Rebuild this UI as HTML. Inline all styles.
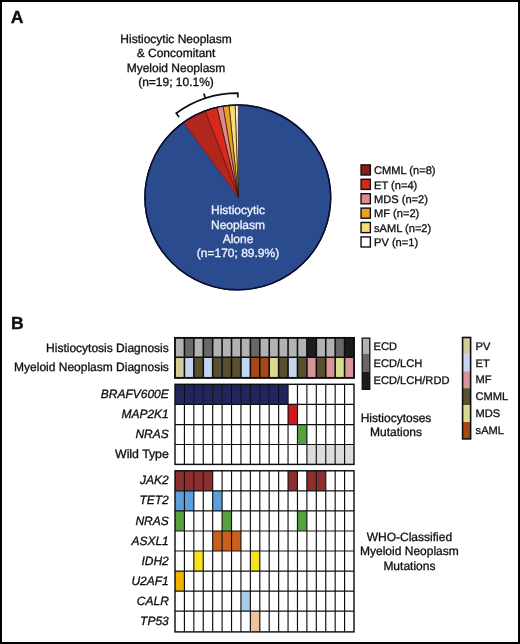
<!DOCTYPE html>
<html><head><meta charset="utf-8"><title>Figure</title>
<style>
html,body{margin:0;padding:0;background:#fff;}
svg{display:block;}
text{font-family:"Liberation Sans",Arial,Helvetica,sans-serif;fill:#111;stroke:#111;stroke-width:0.32px;text-rendering:geometricPrecision;}
.b{font-weight:bold;font-size:17.6px;stroke-width:0.4px;}
.t{font-size:12px;}
.l{font-size:11.1px;}
.i{font-style:italic;}
.w{fill:#eef2fa;stroke:#eef2fa;}
.m{text-anchor:middle;}
.e{text-anchor:end;}
</style></head><body>
<svg width="520" height="644" viewBox="0 0 520 644">
<rect x="0" y="0" width="520" height="644" fill="#fff"/>
<rect x="1" y="1" width="518" height="642" fill="none" stroke="#000" stroke-width="2"/>
<defs><filter id="sf" x="0" y="0" width="520" height="644" filterUnits="userSpaceOnUse"><feGaussianBlur stdDeviation="0.38"/></filter></defs>
<g filter="url(#sf)">
<text class="b" x="10.7" y="23.25">A</text>
<text class="b" x="11.0" y="328.65">B</text>
<ellipse cx="237.8" cy="197.4" rx="92.9" ry="92.4" fill="#2a4b8d" stroke="#0a1030" stroke-width="1.4"/>
<clipPath id="pc"><ellipse cx="237.8" cy="197.4" rx="92.9" ry="92.4"/></clipPath>
<g clip-path="url(#pc)">
<path d="M238.25,197.30 L238.25,87.30 A110,110 0 0 0 234.59,87.36 Z" fill="#ffffff" stroke="#2a1408" stroke-width="0.65" stroke-linejoin="round"/>
<path d="M238.25,197.30 L234.59,87.36 A110,110 0 0 0 227.30,87.85 Z" fill="#f8dc74" stroke="#2a1408" stroke-width="0.65" stroke-linejoin="round"/>
<path d="M238.25,197.30 L227.30,87.85 A110,110 0 0 0 220.05,88.82 Z" fill="#e8a122" stroke="#2a1408" stroke-width="0.65" stroke-linejoin="round"/>
<path d="M238.25,197.30 L220.05,88.82 A110,110 0 0 0 212.88,90.27 Z" fill="#e08a8a" stroke="#2a1408" stroke-width="0.65" stroke-linejoin="round"/>
<path d="M238.25,197.30 L212.88,90.27 A110,110 0 0 0 198.91,94.57 Z" fill="#d82a1c" stroke="#2a1408" stroke-width="0.65" stroke-linejoin="round"/>
<path d="M238.25,197.30 L198.91,94.57 A110,110 0 0 0 173.30,108.52 Z" fill="#b2251a" stroke="#6a1712" stroke-width="0.45" stroke-linejoin="round"/>
</g>
<ellipse cx="237.8" cy="197.4" rx="92.9" ry="92.4" fill="none" stroke="#0a1030" stroke-width="1.4"/>
<path d="M237.80,97.60 L237.80,93.10 A104.3,104.3 0 0 0 176.21,113.22 L179.05,117.10 M205.40,98.26 L203.85,93.51" fill="none" stroke="#111" stroke-width="1.7"/>
<text class="t m" x="176" y="42.6">Histiocytic Neoplasm</text>
<text class="t m" x="176" y="57.0">&amp; Concomitant</text>
<text class="t m" x="176" y="71.5">Myeloid Neoplasm</text>
<text class="t m" x="176" y="85.9">(n=19; 10.1%)</text>
<text class="t m w" x="238" y="214.2">Histiocytic</text>
<text class="t m w" x="238" y="228.5">Neoplasm</text>
<text class="t m w" x="238" y="242.9">Alone</text>
<text class="t m w" x="238" y="257.2">(n=170; 89.9%)</text>
<rect x="361.05" y="164.9" width="9.3" height="10.1" fill="#8a1c1c" stroke="#111" stroke-width="1.4"/>
<text class="l" x="374" y="174.1">CMML (n=8)</text>
<rect x="361.05" y="179.3" width="9.3" height="10.1" fill="#d42a1c" stroke="#111" stroke-width="1.4"/>
<text class="l" x="374" y="188.5">ET (n=4)</text>
<rect x="361.05" y="193.7" width="9.3" height="10.1" fill="#e08a8a" stroke="#111" stroke-width="1.4"/>
<text class="l" x="374" y="202.9">MDS (n=2)</text>
<rect x="361.05" y="208.1" width="9.3" height="10.1" fill="#e8a122" stroke="#111" stroke-width="1.4"/>
<text class="l" x="374" y="217.3">MF (n=2)</text>
<rect x="361.05" y="222.5" width="9.3" height="10.1" fill="#f8dc74" stroke="#111" stroke-width="1.4"/>
<text class="l" x="374" y="231.7">sAML (n=2)</text>
<rect x="361.05" y="236.9" width="9.3" height="10.1" fill="#ffffff" stroke="#111" stroke-width="1.4"/>
<text class="l" x="374" y="246.1">PV (n=1)</text>
<rect x="175.00" y="337.90" width="9.42" height="19.30" fill="#b2b2b2"/>
<rect x="184.42" y="337.90" width="9.42" height="19.30" fill="#676767"/>
<rect x="193.84" y="337.90" width="9.42" height="19.30" fill="#b2b2b2"/>
<rect x="203.26" y="337.90" width="9.42" height="19.30" fill="#676767"/>
<rect x="212.68" y="337.90" width="9.42" height="19.30" fill="#b2b2b2"/>
<rect x="222.10" y="337.90" width="9.42" height="19.30" fill="#b2b2b2"/>
<rect x="231.53" y="337.90" width="9.42" height="19.30" fill="#b2b2b2"/>
<rect x="240.95" y="337.90" width="9.42" height="19.30" fill="#b2b2b2"/>
<rect x="250.37" y="337.90" width="9.42" height="19.30" fill="#676767"/>
<rect x="259.79" y="337.90" width="9.42" height="19.30" fill="#b2b2b2"/>
<rect x="269.21" y="337.90" width="9.42" height="19.30" fill="#b2b2b2"/>
<rect x="278.63" y="337.90" width="9.42" height="19.30" fill="#b2b2b2"/>
<rect x="288.05" y="337.90" width="9.42" height="19.30" fill="#b2b2b2"/>
<rect x="297.47" y="337.90" width="9.42" height="19.30" fill="#b2b2b2"/>
<rect x="306.89" y="337.90" width="9.42" height="19.30" fill="#1e1e1e"/>
<rect x="316.31" y="337.90" width="9.42" height="19.30" fill="#b2b2b2"/>
<rect x="325.74" y="337.90" width="9.42" height="19.30" fill="#b2b2b2"/>
<rect x="335.16" y="337.90" width="9.42" height="19.30" fill="#676767"/>
<rect x="344.58" y="337.90" width="9.42" height="19.30" fill="#1e1e1e"/>
<rect x="175.00" y="357.20" width="9.42" height="20.70" fill="#d3c99b"/>
<rect x="184.42" y="357.20" width="9.42" height="20.70" fill="#c5d5ef"/>
<rect x="193.84" y="357.20" width="9.42" height="20.70" fill="#5a4f2d"/>
<rect x="203.26" y="357.20" width="9.42" height="20.70" fill="#c5d5ef"/>
<rect x="212.68" y="357.20" width="9.42" height="20.70" fill="#5a4f2d"/>
<rect x="222.10" y="357.20" width="9.42" height="20.70" fill="#5a4f2d"/>
<rect x="231.53" y="357.20" width="9.42" height="20.70" fill="#5a4f2d"/>
<rect x="240.95" y="357.20" width="9.42" height="20.70" fill="#c5d5ef"/>
<rect x="250.37" y="357.20" width="9.42" height="20.70" fill="#a64a19"/>
<rect x="259.79" y="357.20" width="9.42" height="20.70" fill="#a64a19"/>
<rect x="269.21" y="357.20" width="9.42" height="20.70" fill="#d9da92"/>
<rect x="278.63" y="357.20" width="9.42" height="20.70" fill="#5a4f2d"/>
<rect x="288.05" y="357.20" width="9.42" height="20.70" fill="#c5d5ef"/>
<rect x="297.47" y="357.20" width="9.42" height="20.70" fill="#5a4f2d"/>
<rect x="306.89" y="357.20" width="9.42" height="20.70" fill="#d9969a"/>
<rect x="316.31" y="357.20" width="9.42" height="20.70" fill="#5a4f2d"/>
<rect x="325.74" y="357.20" width="9.42" height="20.70" fill="#d9969a"/>
<rect x="335.16" y="357.20" width="9.42" height="20.70" fill="#d9da92"/>
<rect x="344.58" y="357.20" width="9.42" height="20.70" fill="#d9969a"/>
<path d="M184.42,337.90V377.90M193.84,337.90V377.90M203.26,337.90V377.90M212.68,337.90V377.90M222.10,337.90V377.90M231.53,337.90V377.90M240.95,337.90V377.90M250.37,337.90V377.90M259.79,337.90V377.90M269.21,337.90V377.90M278.63,337.90V377.90M288.05,337.90V377.90M297.47,337.90V377.90M306.89,337.90V377.90M316.31,337.90V377.90M325.74,337.90V377.90M335.16,337.90V377.90M344.58,337.90V377.90M175.00,357.20H354.00" fill="none" stroke="#111" stroke-width="1.6"/>
<rect x="175.00" y="337.90" width="179.00" height="40.00" fill="none" stroke="#111" stroke-width="1.9000000000000001"/>
<rect x="175.00" y="384.30" width="9.42" height="20.10" fill="#24285e"/>
<rect x="184.42" y="384.30" width="9.42" height="20.10" fill="#24285e"/>
<rect x="193.84" y="384.30" width="9.42" height="20.10" fill="#24285e"/>
<rect x="203.26" y="384.30" width="9.42" height="20.10" fill="#24285e"/>
<rect x="212.68" y="384.30" width="9.42" height="20.10" fill="#24285e"/>
<rect x="222.10" y="384.30" width="9.42" height="20.10" fill="#24285e"/>
<rect x="231.53" y="384.30" width="9.42" height="20.10" fill="#24285e"/>
<rect x="240.95" y="384.30" width="9.42" height="20.10" fill="#24285e"/>
<rect x="250.37" y="384.30" width="9.42" height="20.10" fill="#24285e"/>
<rect x="259.79" y="384.30" width="9.42" height="20.10" fill="#24285e"/>
<rect x="269.21" y="384.30" width="9.42" height="20.10" fill="#24285e"/>
<rect x="278.63" y="384.30" width="9.42" height="20.10" fill="#24285e"/>
<rect x="288.05" y="404.40" width="9.42" height="20.20" fill="#d4161c"/>
<rect x="297.47" y="424.60" width="9.42" height="19.90" fill="#57a03f"/>
<rect x="306.89" y="444.50" width="9.42" height="19.90" fill="#dcdcdc"/>
<rect x="316.31" y="444.50" width="9.42" height="19.90" fill="#dcdcdc"/>
<rect x="325.74" y="444.50" width="9.42" height="19.90" fill="#dcdcdc"/>
<rect x="335.16" y="444.50" width="9.42" height="19.90" fill="#dcdcdc"/>
<rect x="344.58" y="444.50" width="9.42" height="19.90" fill="#dcdcdc"/>
<path d="M184.42,384.30V464.40M193.84,384.30V464.40M203.26,384.30V464.40M212.68,384.30V464.40M222.10,384.30V464.40M231.53,384.30V464.40M240.95,384.30V464.40M250.37,384.30V464.40M259.79,384.30V464.40M269.21,384.30V464.40M278.63,384.30V464.40M288.05,384.30V464.40M297.47,384.30V464.40M306.89,384.30V464.40M316.31,384.30V464.40M325.74,384.30V464.40M335.16,384.30V464.40M344.58,384.30V464.40M175.00,404.40H354.00M175.00,424.60H354.00M175.00,444.50H354.00" fill="none" stroke="#111" stroke-width="1.15"/>
<rect x="175.00" y="384.30" width="179.00" height="80.10" fill="none" stroke="#111" stroke-width="1.45"/>
<rect x="175.00" y="470.80" width="9.42" height="20.05" fill="#8f2d2d"/>
<rect x="184.42" y="470.80" width="9.42" height="20.05" fill="#8f2d2d"/>
<rect x="193.84" y="470.80" width="9.42" height="20.05" fill="#8f2d2d"/>
<rect x="203.26" y="470.80" width="9.42" height="20.05" fill="#8f2d2d"/>
<rect x="288.05" y="470.80" width="9.42" height="20.05" fill="#8f2d2d"/>
<rect x="306.89" y="470.80" width="9.42" height="20.05" fill="#8f2d2d"/>
<rect x="316.31" y="470.80" width="9.42" height="20.05" fill="#8f2d2d"/>
<rect x="175.00" y="490.85" width="9.42" height="20.05" fill="#5b9fdc"/>
<rect x="184.42" y="490.85" width="9.42" height="20.05" fill="#5b9fdc"/>
<rect x="212.68" y="490.85" width="9.42" height="20.05" fill="#5b9fdc"/>
<rect x="175.00" y="510.90" width="9.42" height="20.05" fill="#57a03f"/>
<rect x="222.10" y="510.90" width="9.42" height="20.05" fill="#57a03f"/>
<rect x="297.47" y="510.90" width="9.42" height="20.05" fill="#57a03f"/>
<rect x="212.68" y="530.95" width="9.42" height="20.05" fill="#c9601c"/>
<rect x="222.10" y="530.95" width="9.42" height="20.05" fill="#c9601c"/>
<rect x="231.53" y="530.95" width="9.42" height="20.05" fill="#c9601c"/>
<rect x="193.84" y="551.00" width="9.42" height="20.05" fill="#f7e21e"/>
<rect x="250.37" y="551.00" width="9.42" height="20.05" fill="#f7e21e"/>
<rect x="175.00" y="571.05" width="9.42" height="20.05" fill="#f0b400"/>
<rect x="240.95" y="591.10" width="9.42" height="20.05" fill="#a9cde9"/>
<rect x="250.37" y="611.15" width="9.42" height="20.75" fill="#eec29c"/>
<path d="M184.42,470.80V631.90M193.84,470.80V631.90M203.26,470.80V631.90M212.68,470.80V631.90M222.10,470.80V631.90M231.53,470.80V631.90M240.95,470.80V631.90M250.37,470.80V631.90M259.79,470.80V631.90M269.21,470.80V631.90M278.63,470.80V631.90M288.05,470.80V631.90M297.47,470.80V631.90M306.89,470.80V631.90M316.31,470.80V631.90M325.74,470.80V631.90M335.16,470.80V631.90M344.58,470.80V631.90M175.00,490.85H354.00M175.00,510.90H354.00M175.00,530.95H354.00M175.00,551.00H354.00M175.00,571.05H354.00M175.00,591.10H354.00M175.00,611.15H354.00" fill="none" stroke="#111" stroke-width="1.15"/>
<rect x="175.00" y="470.80" width="179.00" height="161.10" fill="none" stroke="#111" stroke-width="1.45"/>
<text class="t e" x="168.8" y="351.5">Histiocytosis Diagnosis</text>
<text class="t e" x="168.8" y="371.3">Myeloid Neoplasm Diagnosis</text>
<text class="t e i" x="168.8" y="397.8">BRAFV600E</text>
<text class="t e i" x="168.8" y="417.9">MAP2K1</text>
<text class="t e i" x="168.8" y="438.4">NRAS</text>
<text class="t e" x="168.8" y="458.0" style="font-size:12.3px">Wild Type</text>
<text class="t e i" x="168.8" y="484.3">JAK2</text>
<text class="t e i" x="168.8" y="504.4">TET2</text>
<text class="t e i" x="168.8" y="524.5">NRAS</text>
<text class="t e i" x="168.8" y="544.6">ASXL1</text>
<text class="t e i" x="168.8" y="564.7">IDH2</text>
<text class="t e i" x="168.8" y="584.8">U2AF1</text>
<text class="t e i" x="168.8" y="604.9">CALR</text>
<text class="t e i" x="168.8" y="625.0">TP53</text>
<rect x="362.2" y="338.1" width="7.6" height="15.6" fill="#b2b2b2"/>
<text class="l" x="373.6" y="350.1">ECD</text>
<rect x="362.2" y="353.7" width="7.6" height="17.8" fill="#676767"/>
<text class="l" x="373.6" y="367.0">ECD/LCH</text>
<rect x="362.2" y="371.5" width="7.6" height="17.8" fill="#1e1e1e"/>
<text class="l" x="373.6" y="383.8">ECD/LCH/RDD</text>
<rect x="362.2" y="338.1" width="7.6" height="51.2" fill="none" stroke="#111" stroke-width="1.3"/>
<rect x="462.6" y="337.5" width="8" height="16.9" fill="#d3c99b"/>
<text class="l" x="475.6" y="349.8">PV</text>
<rect x="462.6" y="354.4" width="8" height="16.9" fill="#c5d5ef"/>
<text class="l" x="475.6" y="366.6">ET</text>
<rect x="462.6" y="371.3" width="8" height="16.9" fill="#d9969a"/>
<text class="l" x="475.6" y="383.3">MF</text>
<rect x="462.6" y="388.2" width="8" height="16.9" fill="#5a4f2d"/>
<text class="l" x="475.6" y="400.1">CMML</text>
<rect x="462.6" y="405.1" width="8" height="16.9" fill="#d9da92"/>
<text class="l" x="475.6" y="416.8">MDS</text>
<rect x="462.6" y="422.0" width="8" height="16.9" fill="#a64a19"/>
<text class="l" x="475.6" y="433.6">sAML</text>
<rect x="462.6" y="337.5" width="8" height="101.4" fill="none" stroke="#111" stroke-width="1.6"/>
<text class="t m" x="396" y="421.7">Histiocytoses</text>
<text class="t m" x="396" y="435.6">Mutations</text>
<text class="t m" x="409.4" y="540.8">WHO-Classified</text>
<text class="t m" x="409.4" y="555.2">Myeloid Neoplasm</text>
<text class="t m" x="409.4" y="569.6">Mutations</text>
</g>
</svg>
</body></html>
